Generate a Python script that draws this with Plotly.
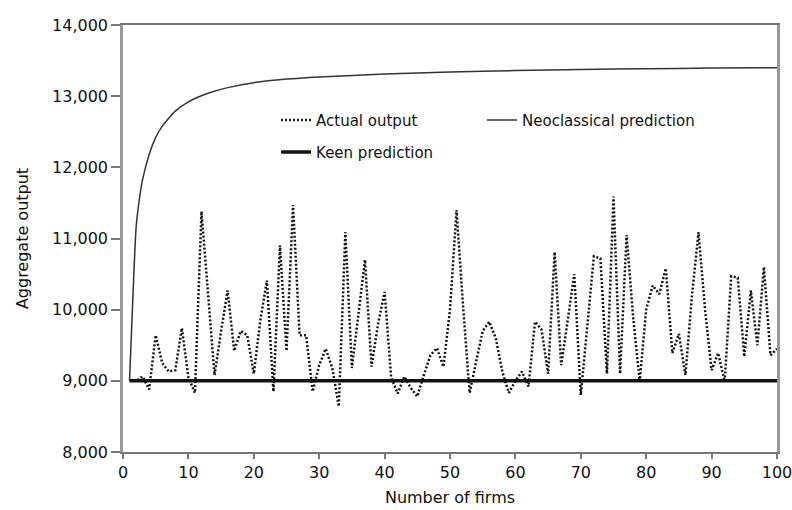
import plotly.graph_objects as go

# number of firms
firms = list(range(1, 101))

# actual output
actual_output = [
    9000, 9000, 9060, 8880, 9640, 9250, 9130, 9150, 9740, 9050,
    8830, 11380, 10230, 9080, 9700, 10270, 9420, 9700, 9640, 9100,
    9850, 10410, 8850, 10900, 9420, 11470, 9640, 9640, 8850, 9220,
    9450, 9180, 8640, 11090, 9180, 9930, 10700, 9200, 9800, 10250,
    9050, 8820, 9060, 8900, 8780, 9080, 9360, 9460, 9200, 10000,
    11400, 10050, 8830, 9270, 9700, 9830, 9600, 9130, 8830, 9000,
    9130, 8920, 9830, 9720, 9100, 10810, 9220, 9850, 10500, 8800,
    9800, 10750, 10720, 9100, 11590, 9100, 11050, 9900, 8990, 10000,
    10340, 10220, 10580, 9390, 9660, 9080, 10200, 11090, 10000, 9150,
    9390, 8990, 10470, 10450, 9340, 10270, 9500, 10600, 9360, 9450,
]

# neoclassical prediction, sampled along the curve
neo_firms = [1, 1.5, 2, 2.5, 3, 4, 5, 6, 8, 10, 13, 16, 20, 25, 30, 40, 50, 60, 70, 80, 90, 100]
neo_output = [9000, 10150, 11150, 11550, 11830, 12180, 12420, 12580, 12790, 12920, 13040,
              13120, 13190, 13240, 13270, 13310, 13340, 13360, 13375, 13385, 13395, 13400]

# Keen prediction (flat)
keen_firms = [1, 100]
keen_output = [9000, 9000]

font = "DejaVu Sans"
text_col = "#111111"
leg_font = dict(family=font, size=15, color=text_col)

fig = go.Figure()
fig.add_trace(go.Scatter(x=keen_firms, y=keen_output, mode="lines", name="Keen prediction",
                         line=dict(color="#111111", width=3.5), legend="legend2"))
fig.add_trace(go.Scatter(x=firms, y=actual_output, mode="lines", name="Actual output",
                         line=dict(color="#111111", width=2.5, dash="2px,2px"), showlegend=True))
fig.add_trace(go.Scatter(x=neo_firms, y=neo_output, mode="lines", name="Neoclassical prediction",
                         line=dict(color="#333333", width=1.5, shape="spline", smoothing=0.6),
                         legend="legend3"))

fig.update_layout(
    width=792, height=510,
    margin=dict(l=123, r=15, t=25, b=58),
    paper_bgcolor="white", plot_bgcolor="white",
    font=dict(family=font, size=15, color=text_col),
    showlegend=True,
    legend=dict(x=0.234, y=0.777, xanchor="left", yanchor="middle",
                bgcolor="rgba(0,0,0,0)", font=leg_font),
    legend2=dict(x=0.234, y=0.702, xanchor="left", yanchor="middle",
                 bgcolor="rgba(0,0,0,0)", font=leg_font),
    legend3=dict(x=0.549, y=0.777, xanchor="left", yanchor="middle",
                 bgcolor="rgba(0,0,0,0)", font=leg_font),
)
fig.update_xaxes(range=[0, 100], dtick=10, showgrid=False, zeroline=False, automargin=False,
                 showline=True, linecolor="#777777", linewidth=2, mirror=True,
                 ticks="outside", ticklen=5, tickcolor="#777777", tickwidth=1.5,
                 ticklabeloverflow="allow",
                 tickfont=dict(size=16), title=dict(text="Number of firms", standoff=11, font=dict(size=16)))
fig.update_yaxes(range=[8000, 14000], dtick=1000, tickformat=",", showgrid=False, zeroline=False,
                 automargin=False,
                 showline=True, linecolor="#999999", linewidth=2.5, mirror=True,
                 ticks="outside", ticklen=9, tickcolor="#777777", tickwidth=1.5,
                 tickfont=dict(size=16), title=dict(text="Aggregate output", standoff=20, font=dict(size=16)))

# drop the default page margin so the figure sits at the window's corner
fig.write_html("out.html", config={"displayModeBar": False},
               post_script="document.body.style.margin='0';")
